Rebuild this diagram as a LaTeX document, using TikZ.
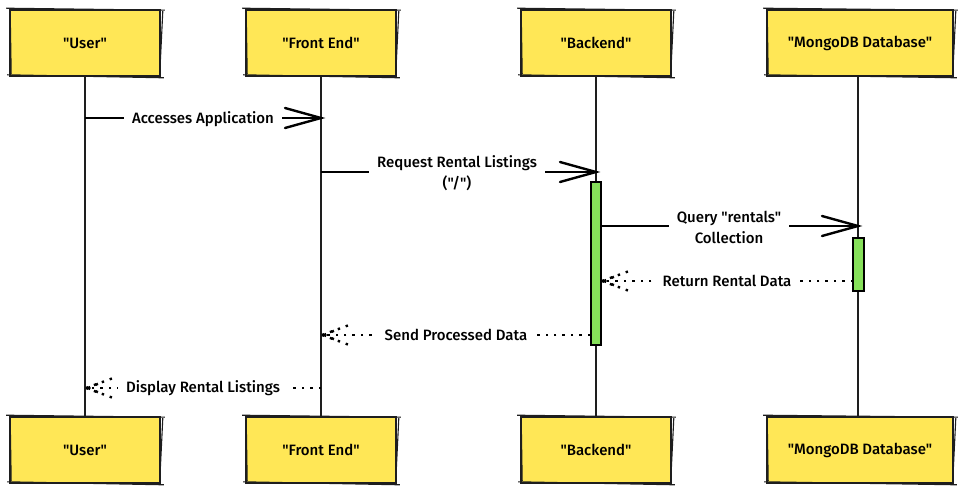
\documentclass[tikz,border=0pt]{standalone}
\usepackage{fontspec}
\setmainfont{Fira Sans Medium}[Ligatures=TeXOff]
\usetikzlibrary{calc}
\definecolor{actfill}{HTML}{FFE756}
\definecolor{barfill}{HTML}{86E05A}
\definecolor{inkc}{HTML}{1E1E1E}
\tikzset{
  actor/.style={fill=actfill, draw=inkc, line width=1.6pt, minimum width=150pt, minimum height=66pt, inner sep=0pt, font=\fontsize{15}{16}\selectfont},
  rough/.style={draw=inkc, line width=1.1pt},
  lifeline/.style={draw=inkc, line width=1.3pt},
  bar/.style={fill=barfill, draw=black, line width=2pt, inner sep=0pt},
  msg/.style={draw=black, line width=2.4pt},
  retmsg/.style={draw=black, line width=2.4pt, dash pattern=on 2.4pt off 6pt},
  lbl/.style={fill=white, inner xsep=8pt, inner ysep=2pt, align=center, font=\fontsize{15}{21}\selectfont},
}
\newcommand\roughbox[1]{%
  \draw[rough] ([shift={(-3,-1)}]#1.north west) -- ([shift={(4,1)}]#1.north east);
  \draw[rough] ([shift={(2,2)}]#1.north east) -- ([shift={(-1,-4)}]#1.south east);
  \draw[rough] ([shift={(3,1)}]#1.south east) -- ([shift={(-2,-2)}]#1.south west);
  \draw[rough] ([shift={(2,-3)}]#1.south west) -- ([shift={(1,3)}]#1.north west);
}
\newcommand\solidhead[2]{% tip, direction (+1 right / -1 left)
  \draw[msg, line cap=round] ($(#1)+(-36*#2,-10)$) -- (#1) -- ($(#1)+(-36*#2,10)$);
}
\newcommand\dothead[2]{%
  \draw[retmsg] (#1) -- ($(#1)+(30*#2,-11)$);
  \draw[retmsg] (#1) -- ($(#1)+(30*#2,11)$);
  \draw[retmsg] ($(#1)+(2*#2,0)$) -- ($(#1)+(14*#2,-5)$);
  \draw[retmsg] ($(#1)+(2*#2,0)$) -- ($(#1)+(14*#2,5)$);
}
\begin{document}
\begin{tikzpicture}[x=1pt,y=-1pt]
\useasboundingbox (0,0) rectangle (959,494);
% lifelines first
\coordinate (uA) at (85,76);  \coordinate (uB) at (85,417);
\coordinate (fA) at (321,76); \coordinate (fB) at (321,417);
\coordinate (bA) at (596,76); \coordinate (bB) at (596,417);
\coordinate (mA) at (858,76); \coordinate (mB) at (858,417);
\draw[lifeline] (uA) -- (uB);
\draw[lifeline] (fA) -- (fB);
\draw[lifeline] (bA) -- (bB);
\draw[lifeline] (mA) -- (mB);

% actors top
\node[actor] (user1) at (85,43) {"User"};
\node[actor] (fe1) at (321,43) {"Front End"};
\node[actor] (be1) at (596,43) {"Backend"};
\node[actor, minimum width=186pt] (db1) at (860,43) {"MongoDB Database"};
% actors bottom
\node[actor] (user2) at (85,450) {"User"};
\node[actor] (fe2) at (321,450) {"Front End"};
\node[actor] (be2) at (596,450) {"Backend"};
\node[actor, minimum width=186pt] (db2) at (860,450) {"MongoDB Database"};
\roughbox{user1}\roughbox{fe1}\roughbox{be1}\roughbox{db1}
\roughbox{user2}\roughbox{fe2}\roughbox{be2}\roughbox{db2}

% activation bars
\node[bar, minimum width=10pt, minimum height=163pt] (bact) at (596,263.5) {};
\node[bar, minimum width=11pt, minimum height=53pt] (mact) at (858.5,264.5) {};

% message 1
\coordinate (m1s) at (85,118); \coordinate (m1e) at (321,118);
\draw[msg] (m1s) -- (m1e);
\solidhead{m1e}{1}
\node[lbl] (l1) at (203,119) {Accesses Application};

% message 2
\coordinate (m2s) at (321,172); \coordinate (m2e) at (596,172);
\draw[msg] (m2s) -- (m2e);
\solidhead{m2e}{1}
\node[lbl] (l2) at (457,173) {Request Rental Listings\\("/")};

% message 3
\coordinate (m3s) at (601,226); \coordinate (m3e) at (858,226);
\draw[msg] (m3s) -- (m3e);
\solidhead{m3e}{1}
\node[lbl] (l3) at (729,227) {Query "rentals"\\Collection};

% message 4 (return)
\coordinate (m4s) at (853,281); \coordinate (m4e) at (602,281);
\draw[retmsg] (m4s) -- (m4e);
\dothead{m4e}{1}
\node[lbl] (l4) at (727,281) {Return Rental Data};

% message 5 (return)
\coordinate (m5s) at (590,335); \coordinate (m5e) at (322,335);
\draw[retmsg] (m5s) -- (m5e);
\dothead{m5e}{1}
\node[lbl] (l5) at (456,335) {Send Processed Data};

% message 6 (return)
\coordinate (m6s) at (321,388); \coordinate (m6e) at (86,388);
\draw[retmsg] (m6s) -- (m6e);
\dothead{m6e}{1}
\node[lbl] (l6) at (203,388) {Display Rental Listings};
\end{tikzpicture}
\end{document}
